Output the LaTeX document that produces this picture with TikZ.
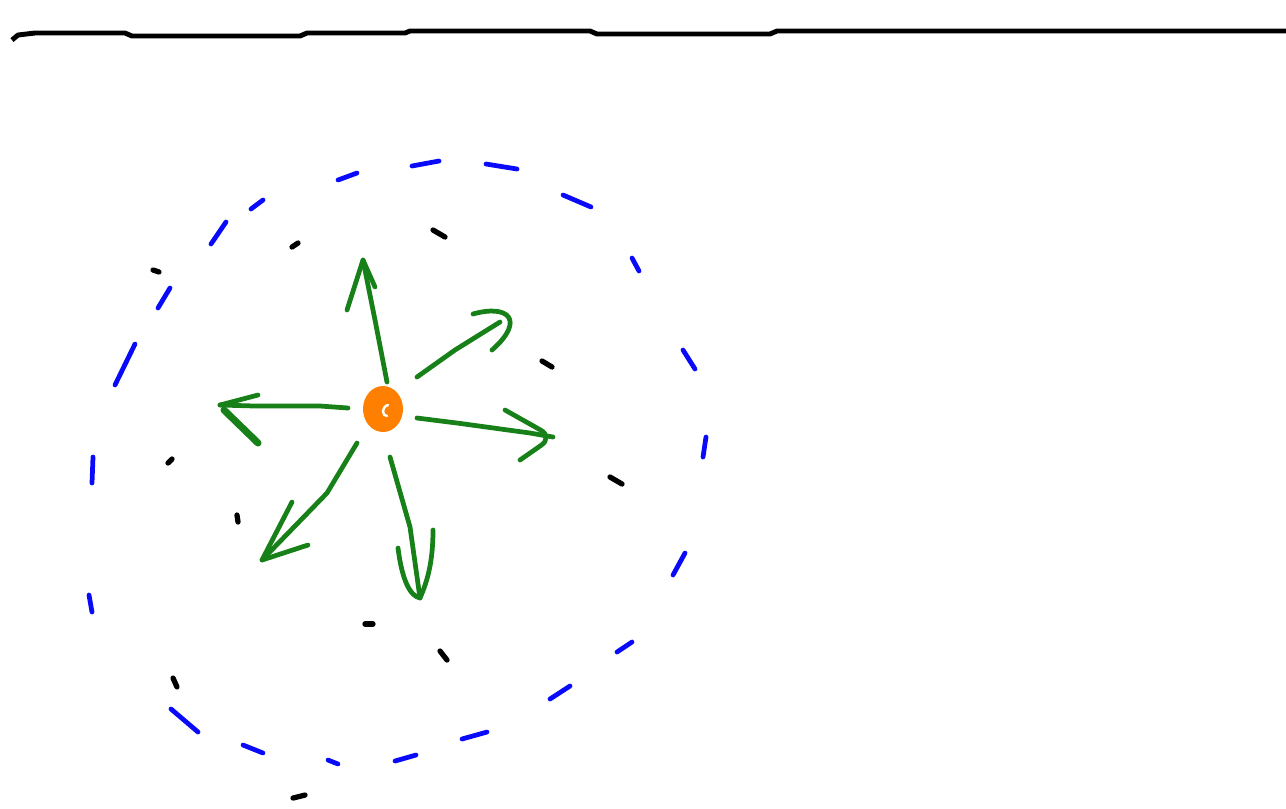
\documentclass[tikz,border=0pt]{standalone}
\usepackage{tikz}

\definecolor{ringblue}{RGB}{10,10,250}
\definecolor{raygreen}{RGB}{24,128,24}
\definecolor{coreorange}{RGB}{255,128,0}

\begin{document}
\begin{tikzpicture}[x=0.01cm, y=-0.01cm,
    floor/.style={line width=1.4pt, line join=round},
    ring/.style={ringblue, line width=1.35pt, line cap=round},
    speck/.style={black, line width=1.5pt, line cap=round},
    ray/.style={raygreen, line width=1.35pt, line cap=round, line join=round}]
    \useasboundingbox (0,0) rectangle (1286,808);

    % Ground line at the top
    \draw[floor] (12,40) -- (18,35) -- (35,33) -- (125,33) -- (132,36) -- (300,36)
        -- (307,33) -- (405,33) -- (410,31) -- (590,31) -- (597,34) -- (770,34)
        -- (777,31) -- (1286,31);

    % Dashed blue ring
    \foreach \xa/\ya/\xb/\yb in {338/180/357/173, 412/166/439/161, 486/164/517/169,
        563/195/591/207, 632/258/639/271, 683/350/695/369, 706/437/703/457,
        685/553/673/575, 632/642/617/652, 570/686/550/699, 487/732/462/739,
        416/755/395/761, 338/764/328/760, 263/753/243/745, 198/732/171/709,
        92/612/89/595, 92/483/93/457, 135/344/115/385, 170/288/158/308,
        226/222/211/244, 263/200/251/209}
        \draw[ring] (\xa,\ya) -- (\xb,\yb);

    % Black specks
    \foreach \xa/\ya/\xb/\yb in {153/270/159/272, 292/247/298/243, 433/230/445/237,
        542/361/552/367, 610/477/622/484, 168/463/172/459, 237/515/238/522,
        365/624/373/624, 440/651/447/660, 173/678/177/687, 293/798/305/795}
        \draw[speck] (\xa,\ya) -- (\xb,\yb);

    % Source in the middle
    \coordinate (core) at (383,409);
    \fill[coreorange] (core) ellipse [x radius=20, y radius=23];
    \draw[white, line width=0.7pt, line cap=round] (388,405) .. controls (381,407) and (382,416) .. (387,416);

    % Tips of the rays
    \coordinate (upTip) at (363,260);
    \coordinate (neTip) at (500,322);
    \coordinate (eTip) at (553,437);
    \coordinate (wTip) at (220,405);
    \coordinate (swTip) at (262,560);
    \coordinate (sTip) at (420,598);

    % Rays going out
    \draw[ray] (387,382) -- (375,320) -- (upTip);
    \draw[ray] (347,310) -- (upTip) -- (375,287);

    \draw[ray] (417,377) -- (455,350) -- (neTip);
    \draw[ray] (473,314) .. controls (508,304) and (526,320) .. (492,350);

    \draw[ray] (417,418) -- (457,423) -- (530,433) -- (eTip);
    \draw[ray, rounded corners=4pt] (505,410) -- (eTip) -- (520,460);

    \draw[ray] (348,408) -- (320,406) -- (255,406) -- (wTip);
    \draw[ray] (258,395) -- (wTip);
    \draw[ray, line width=2pt] (224,410) -- (258,443);

    \draw[ray] (357,443) -- (327,493) -- (swTip);
    \draw[ray] (292,502) -- (swTip) -- (308,545);

    \draw[ray] (390,457) -- (410,527) -- (sTip);
    \draw[ray] (398,548) .. controls (402,580) and (410,596) .. (sTip)
        .. controls (428,580) and (433,560) .. (433,530);
\end{tikzpicture}
\end{document}
